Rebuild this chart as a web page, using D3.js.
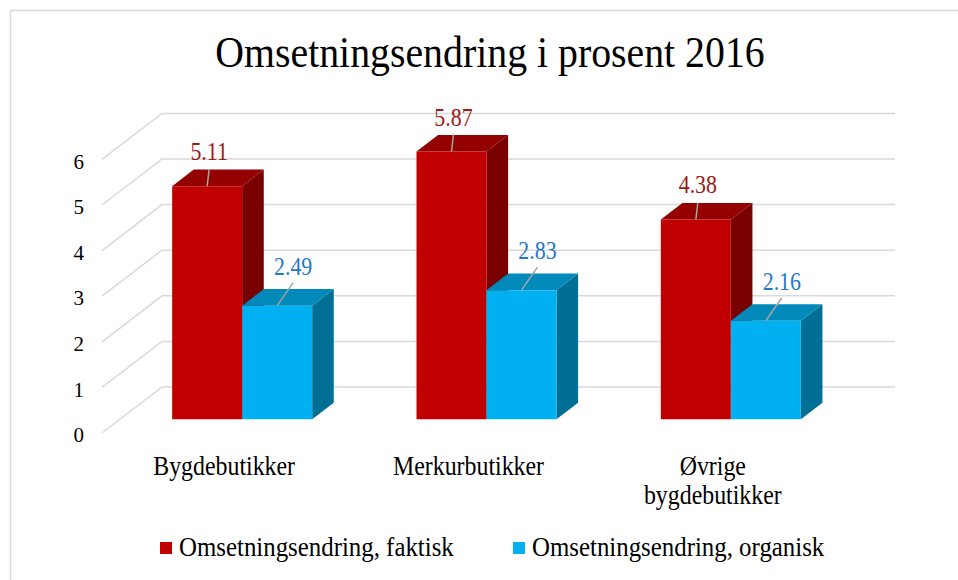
<!DOCTYPE html>
<html>
<head>
<meta charset="utf-8">
<script src="https://cdn.jsdelivr.net/npm/d3@7"></script>
<style>
  html, body { margin: 0; padding: 0; background: #ffffff; }
  svg { display: block; }
  text { font-family: "Liberation Serif", "Times New Roman", serif; }
</style>
</head>
<body>
<svg id="chart" width="958" height="580"></svg>
<script>
// ---- data ----
const title = "Omsetningsendring i prosent 2016";
const categories = ["Bygdebutikker", "Merkurbutikker", "Øvrige bygdebutikker"];
const seriesNames = ["Omsetningsendring, faktisk", "Omsetningsendring, organisk"];
const faktisk = [5.11, 5.87, 4.38];
const organisk = [2.49, 2.83, 2.16];
const yTicks = [0, 1, 2, 3, 4, 5, 6];

// ---- styles ----
const faceColors = [
  { front: "#C00000", top: "#940000", side: "#780000", label: "#A01818" },
  { front: "#00B0F0", top: "#0089B9", side: "#006F96", label: "#1F78C8" }
];
const labelOffsets = [{ dx: 2, dy: -33, lead: -17 }, { dx: 16, dy: -38, lead: -23 }];
const condense = 0.89;   // narrow serif look

const svg = d3.select("#chart");

function ctext(parent, x, y, size, anchor) {
  return parent.append("text")
    .attr("transform", `translate(${x},${y}) scale(${condense},1)`)
    .attr("text-anchor", anchor).attr("font-size", size / condense * 0.995);
}

// outer border
svg.append("rect").attr("x", 10.5).attr("y", 10.5).attr("width", 960).attr("height", 600)
  .attr("fill", "#fff").attr("stroke", "#D9D9D9").attr("stroke-width", 1.5);

// title
ctext(svg, 490, 67, 40, "middle").attr("fill", "#000").text(title);

// ---- 3D oblique geometry ----
const depth = { dx: 60, dy: -46 };
const y = d3.scaleLinear().domain([0, 6]).range([433, 159.4]);
const x = d3.scaleBand().domain(categories).range([102, 835]).paddingInner(0).paddingOuter(0);
const groupW = x.bandwidth() * 0.573;
const xs = d3.scaleBand().domain([0, 1]).range([0, groupW]);
const zFront = 0.3, zBack = 0.66;
const P = (px, v, z) => [px + z * depth.dx, y(v) + z * depth.dy];

// gridlines: left wall diagonals + back wall lines
const grid = svg.append("g").attr("stroke", "#D9D9D9").attr("stroke-width", 1.5).attr("fill", "none");
yTicks.forEach(t => {
  const a = P(x.range()[0], t, 0), b = P(x.range()[0], t, 1), c = P(x.range()[1], t, 1);
  grid.append("path").attr("d", `M${a[0]},${a[1]}L${b[0]},${b[1]}L${c[0]},${c[1]}`);
});

// y axis tick labels
const axisG = svg.append("g").attr("transform", "translate(84,2)")
  .call(d3.axisLeft(y).tickValues(yTicks).tickSize(0).tickPadding(0).tickFormat(d3.format("d")));
axisG.select(".domain").remove();
axisG.selectAll("text").attr("font-size", 21).attr("fill", "#000")
  .style("font-family", "'Liberation Serif', serif");

// bars
const series = [faktisk, organisk];
const barsG = svg.append("g");
categories.forEach((cat, ci) => {
  series.forEach((vals, si) => {
    const v = vals[ci];
    const x0 = x(cat) + (x.bandwidth() - groupW) / 2 + xs(si);
    const x1 = x0 + xs.bandwidth();
    const c = faceColors[si];
    const fTL = P(x0, v, zFront), fTR = P(x1, v, zFront), fBR = P(x1, 0, zFront), fBL = P(x0, 0, zFront);
    const bTL = P(x0, v, zBack), bTR = P(x1, v, zBack), bBR = P(x1, 0, zBack);
    const poly = pts => "M" + pts.map(p => p.join(",")).join("L") + "Z";
    const g = barsG.append("g");
    g.append("path").attr("d", poly([fTR, bTR, bBR, fBR])).attr("fill", c.side);
    g.append("path").attr("d", poly([fTL, fTR, bTR, bTL])).attr("fill", c.top);
    g.append("path").attr("d", poly([fTL, fTR, fBR, fBL])).attr("fill", c.front);
  });
});

// value labels with leader lines
const labelsG = svg.append("g");
categories.forEach((cat, ci) => {
  series.forEach((vals, si) => {
    const v = vals[ci];
    const x0 = x(cat) + (x.bandwidth() - groupW) / 2 + xs(si);
    const top = P(x0 + xs.bandwidth() / 2, v, zFront);
    const o = labelOffsets[si];
    const lx = top[0] + o.dx, ly = top[1] + o.dy;
    labelsG.append("line").attr("x1", lx).attr("y1", top[1] + o.lead).attr("x2", top[0]).attr("y2", top[1])
      .attr("stroke", "#A6A6A6").attr("stroke-width", 1.5);
    ctext(labelsG, lx, ly + 7, 22, "middle").attr("fill", faceColors[si].label)
      .text(d3.format(".2f")(v));
  });
});

// category labels
const catG = svg.append("g");
categories.forEach(cat => {
  const cx = x(cat) + x.bandwidth() / 2;
  const words = cat.split(" ");
  const lines = words.length > 1 ? words : [cat];
  lines.forEach((ln, i) => {
    ctext(catG, cx, 475 + i * 29, 24, "middle").attr("fill", "#000").text(ln);
  });
});

// legend
const legendX = [160, 513];
const legG = svg.append("g");
seriesNames.forEach((name, i) => {
  legG.append("rect").attr("x", legendX[i]).attr("y", 542).attr("width", 12).attr("height", 12)
    .attr("fill", faceColors[i].front);
  ctext(legG, legendX[i] + 19, 556, 25, "start").attr("fill", "#000").text(name);
});
</script>
</body>
</html>
